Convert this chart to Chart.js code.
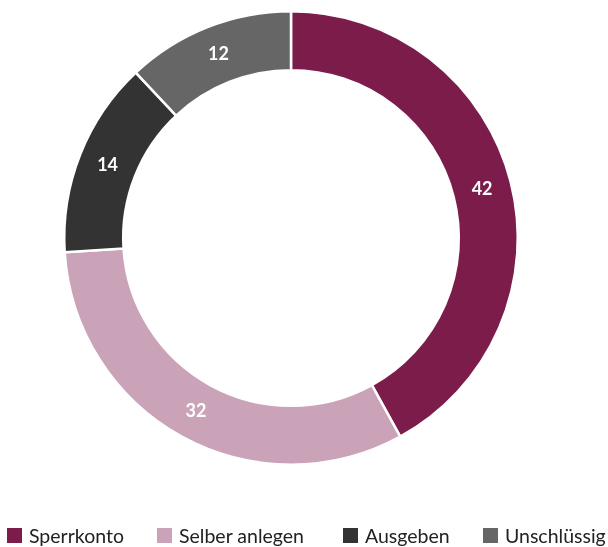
<!DOCTYPE html>
<html>
<head>
<meta charset="utf-8">
<script src="https://cdn.jsdelivr.net/npm/chart.js@4"></script>
<style>
html,body{margin:0;padding:0;background:#fff;}
#wrap{position:relative;width:608px;height:547px;overflow:hidden;}
#c{position:absolute;left:0;top:0;}
.lg{position:absolute;top:526px;height:18px;display:flex;align-items:center;white-space:nowrap;
  font-family:Lato,"Open Sans",sans-serif;font-size:19.5px;color:#222;}
.lg i{display:inline-block;width:15px;height:15px;margin-right:7px;}
</style>
</head>
<body>
<div id="wrap"><canvas id="c" width="608" height="547"></canvas><div id="legend"></div></div>
<script>
const categories = ["Sperrkonto", "Selber anlegen", "Ausgeben", "Unschlüssig"];
const values = [42, 32, 14, 12];
const colors = ["#7B1C4B", "#CBA3B8", "#333333", "#666666"];
const legendX = [7, 157, 343, 483];

const labelPlugin = {
  id: 'valueLabels',
  afterDatasetsDraw(chart) {
    const ctx = chart.ctx;
    const meta = chart.getDatasetMeta(0);
    ctx.save();
    ctx.fillStyle = '#ffffff';
    ctx.font = 'bold 18px Lato, "Open Sans", sans-serif';
    ctx.textAlign = 'center';
    ctx.textBaseline = 'middle';
    meta.data.forEach((arc, i) => {
      const p = arc.tooltipPosition();
      ctx.fillText(String(chart.data.datasets[0].data[i]), p.x, p.y);
    });
    ctx.restore();
  }
};

const chart = new Chart(document.getElementById('c'), {
  type: 'doughnut',
  data: {
    labels: categories,
    datasets: [{
      data: values,
      backgroundColor: colors,
      borderColor: '#ffffff',
      borderWidth: 2.5
    }]
  },
  options: {
    responsive: false,
    animation: false,
    cutout: '74%',
    layout: { padding: { top: 10, left: 0, right: 26, bottom: 81 } },
    plugins: {
      tooltip: { enabled: false },
      legend: { display: false }
    }
  },
  plugins: [labelPlugin]
});

const lg = document.getElementById('legend');
chart.data.labels.forEach((name, i) => {
  const d = document.createElement('div');
  d.className = 'lg';
  d.style.left = legendX[i] + 'px';
  const box = document.createElement('i');
  box.style.background = chart.data.datasets[0].backgroundColor[i];
  d.appendChild(box);
  d.appendChild(document.createTextNode(name));
  lg.appendChild(d);
});
</script>
</body>
</html>
